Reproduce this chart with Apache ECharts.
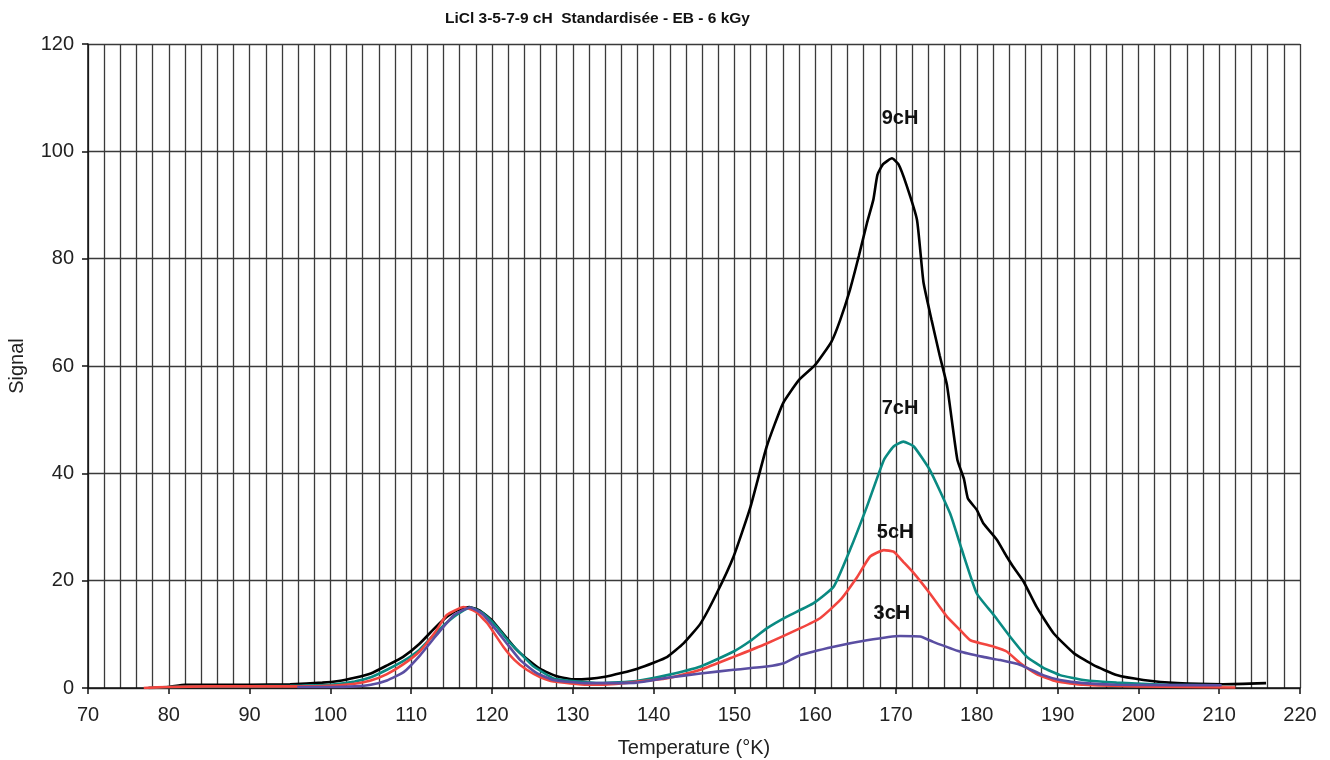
<!DOCTYPE html>
<html>
<head>
<meta charset="utf-8">
<script src="https://cdn.jsdelivr.net/npm/echarts@6/dist/echarts.min.js"></script>
<style>
  html, body { margin: 0; padding: 0; background: #fff; }
  #chart { width: 1330px; height: 760px; }
</style>
</head>
<body>
<div id="chart"></div>
<script>
// courbes : [temperature, signal]
var curve9cH = [
  [77.5,0],[80,0.2],[82,0.6],[86,0.6],[90,0.6],[95,0.7],[99,1.0],[101,1.3],[103,1.9],[105,2.7],
  [107,4.2],[109,5.8],[111,8.2],[113,11.3],[114.5,13.4],[116,14.7],[117.2,15.1],[118.5,14.4],[120,12.6],[121.5,9.9],
  [123,7.2],[124.5,5.2],[126,3.5],[128,2.2],[130,1.6],[132,1.7],[134,2.1],[136,2.8],[138,3.6],[140,4.7],
  [141.7,5.8],[143.7,8.3],[145.8,12],[147.8,17.6],[149.9,24.5],[152,33.8],[154,45],[156,53],[158,57.4],[160,60.2],
  [162,64.5],[163.1,68.6],[164.3,74.2],[165.4,80.5],[166.4,86.6],[167.2,91],[167.7,95.6],[168.4,97.6],[169.5,98.7],[170.3,97.6],
  [171.3,93.7],[172.6,87.2],[173.4,75.6],[174.4,68.6],[175.4,62],[176.3,56.5],[176.9,50],[177.6,42.5],[178.4,39],[178.9,35.3],
  [180,33.2],[180.8,30.7],[182.5,27.6],[183.7,24.5],[184.5,22.6],[185.8,19.8],[187.4,15.1],[189.5,10.2],[192,6.5],[194.4,4.3],
  [197.3,2.4],[200.6,1.5],[204.8,0.9],[210.5,0.7],[215.8,0.9]
];
var curve7cH = [
  [77.5,0],[80,0.2],[85,0.3],[90,0.3],[95,0.4],[100,0.6],[103,1.2],[105,2.0],[107,3.4],[109,5.0],
  [111,7.1],[113,10.2],[115.3,13.3],[117.3,15],[118.8,14],[120.6,11.4],[122,8.8],[123.5,6.5],[125,4.2],[127.6,1.8],
  [130,1.3],[133.4,0.9],[137.9,1.3],[141.7,2.4],[145.8,4.0],[149.9,6.8],[152,8.8],[154,11.1],[156.5,13.3],[159.8,15.8],
  [162.3,18.9],[164.3,25.7],[166.4,33.8],[168.5,42.5],[169.7,45],[170.9,45.9],[172.2,45],[174.2,40.6],[176.7,32.5],[178.1,26],
  [180,17.6],[182.1,13.6],[184.1,9.6],[186.2,5.8],[188.2,3.8],[190.3,2.4],[193.2,1.5],[197.3,1.0],[203.5,0.6],[210,0.5]
];
var curve5cH = [
  [76.9,0],[80,0.2],[85,0.3],[90,0.3],[95,0.3],[100,0.4],[103,0.8],[105,1.4],[107,2.6],[109,4.4],
  [111.1,6.9],[113,10.5],[114.4,13.6],[116.5,15.1],[118,14.2],[119.4,12.1],[121.4,7.7],[122.8,5.2],[124.3,3.4],[126,2.0],
  [127.6,1.2],[131.8,0.6],[133.4,0.6],[137.5,1.1],[141.7,1.8],[145.8,3.4],[149.9,5.8],[154,8.3],[158.1,11.1],[160.6,13],
  [163.1,16.4],[165.2,20.7],[166.8,24.5],[168.5,25.7],[169.7,25.4],[170.9,23.5],[172.2,21.4],[174.2,17.6],[176.3,13.3],[177.8,11],
  [179.2,8.9],[182.1,7.7],[183.7,6.8],[185.4,4.6],[187.4,2.6],[189.9,1.2],[193.2,0.6],[200,0.3],[212,0.1]
];
var curve3cH = [
  [95.9,0.2],[100,0.2],[103,0.3],[105,0.6],[107,1.4],[109.1,3.0],[111.1,6.1],[113,9.6],[115.3,13.6],[117.3,15],
  [118.8,13.8],[120.2,11.4],[122,8],[123.5,5.2],[125.5,2.8],[127.6,1.5],[131.8,0.9],[137.9,1.0],[141.7,1.9],[145.8,2.7],
  [149.9,3.4],[154,4.0],[156.1,4.6],[158.1,6.1],[162.3,7.7],[166.4,8.9],[170.5,9.7],[173,9.6],[174.6,8.6],[177.9,6.8],
  [180.8,5.8],[182.9,5.2],[185.4,4.3],[188.2,2.4],[190.3,1.5],[193.2,0.9],[197.3,0.6],[210.3,0.5]
];
// position des étiquettes (en unités du graphique)
var labelNames = ['9cH', '7cH', '5cH', '3cH'];
var labelCoords = [[170.5, 106.2], [170.5, 52], [169.9, 28.9], [169.5, 13.8]];

var font = 'Liberation Sans, Arial, sans-serif';

function makeSeries(name, data, color, idx) {
  return {
    name: name,
    type: 'line',
    data: data,
    showSymbol: false,
    smooth: 0.15,
    lineStyle: { color: color, width: 2.6 },
    markPoint: {
      symbol: 'rect',
      symbolSize: 0,
      label: {
        show: true,
        position: 'inside',
        formatter: labelNames[idx],
        color: '#111',
        fontFamily: font,
        fontWeight: 'bold',
        fontSize: 20
      },
      data: [{ coord: labelCoords[idx] }]
    }
  };
}

var myChart = echarts.init(document.getElementById('chart'));
myChart.setOption({
  animation: false,
  backgroundColor: '#fff',
  title: {
    text: 'LiCl 3-5-7-9 cH  Standardisée - EB - 6 kGy',
    left: 440,
    top: 6,
    textStyle: { fontFamily: font, fontWeight: 'bold', fontSize: 15.5, color: '#111' }
  },
  grid: { left: 88, right: 30, top: 44, bottom: 72, outerBoundsMode: 'none', containLabel: false },
  xAxis: {
    type: 'value',
    min: 70,
    max: 220,
    interval: 10,
    name: 'Temperature (°K)',
    nameLocation: 'middle',
    nameGap: 50,
    nameTextStyle: { fontFamily: font, fontSize: 20, color: '#222' },
    axisLine: { show: true, lineStyle: { color: '#111', width: 1.5 } },
    axisTick: { show: true, inside: false, length: 6, lineStyle: { color: '#111', width: 1.5 } },
    axisLabel: { margin: 17, fontFamily: font, fontSize: 20, color: '#222' },
    splitLine: { show: true, lineStyle: { color: '#3a3a3a', width: 1.3 } },
    minorTick: { show: false, splitNumber: 5 },
    minorSplitLine: { show: true, lineStyle: { color: '#3a3a3a', width: 1.3 } }
  },
  yAxis: {
    type: 'value',
    min: 0,
    max: 120,
    interval: 20,
    name: 'Signal',
    nameLocation: 'middle',
    nameGap: 61,
    nameTextStyle: { fontFamily: font, fontSize: 20, color: '#222' },
    axisLine: { show: true, lineStyle: { color: '#111', width: 1.5 } },
    axisTick: { show: true, inside: false, length: 6, lineStyle: { color: '#111', width: 1.5 } },
    axisLabel: { margin: 14, fontFamily: font, fontSize: 20, color: '#222' },
    splitLine: { show: true, lineStyle: { color: '#3a3a3a', width: 1.3 } }
  },
  series: [
    makeSeries('9cH', curve9cH, '#000000', 0),
    makeSeries('7cH', curve7cH, '#0a8a82', 1),
    makeSeries('5cH', curve5cH, '#f2453f', 2),
    makeSeries('3cH', curve3cH, '#5a4ea2', 3)
  ]
});
</script>
</body>
</html>
